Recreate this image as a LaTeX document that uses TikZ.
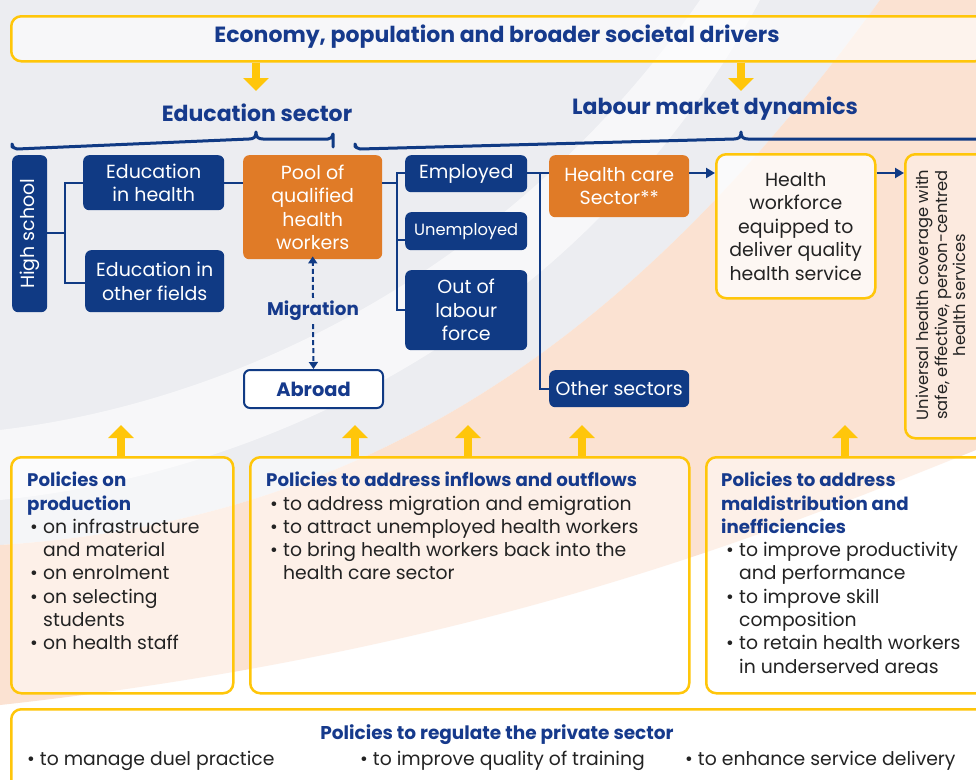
\documentclass[tikz,border=0pt]{standalone}
\usepackage{fontspec}
\setmainfont{Poppins}
\usetikzlibrary{arrows.meta}
\definecolor{dblue}{RGB}{16,58,132}
\definecolor{tblue}{RGB}{22,58,140}
\definecolor{orng}{RGB}{224,123,39}
\definecolor{ylw}{RGB}{255,198,10}
\definecolor{peach}{RGB}{251,226,210}
\definecolor{bggray}{RGB}{236,237,241}
\definecolor{txtgray}{RGB}{35,35,35}
\newcommand\bl[2]{\hspace*{#1}\makebox[13pt][l]{\textbullet}#2}
\newcommand\ind[2]{\hspace*{#1}\hspace*{13pt}#2}
\newcommand\ptitlefont{\bfseries\fontsize{18.2}{23.3}\selectfont}
\begin{document}
\begin{tikzpicture}[x=1pt,y=-1pt,
  bluebox/.style={fill=dblue, rounded corners=6pt, text=white, align=center, anchor=north west, inner sep=1pt, font=\fontsize{19}{23.5}\selectfont},
  orangebox/.style={bluebox, fill=orng},
  ylwbox/.style={draw=ylw, line width=2.5pt, rounded corners=10pt, anchor=north west, inner sep=0pt},
  conn/.style={draw=dblue, line width=2pt},
  flow/.style={conn, -{Triangle[length=9pt,width=10pt]}},
  mig/.style={conn, dash pattern=on 5pt off 3pt, -{Triangle[length=7pt,width=9pt]}},
  uparrow/.style={draw=ylw, line width=8pt, -{Triangle[length=13pt,width=25pt]}},
  brace/.style={draw=dblue, line width=3pt, line cap=round, line join=round},
  ptext/.style={anchor=north west, inner sep=0pt, align=left, text=txtgray, font=\fontsize{18.8}{23.3}\selectfont},
  ttl/.style={text=tblue, font=\bfseries\fontsize{22}{26}\selectfont, inner sep=0pt}
]
\useasboundingbox (0,0) rectangle (976,779);
\clip (0,0) rectangle (976,779);
% background
\fill[white] (0,0) rectangle (976,779);
\fill[bggray] (0,0) -- (880,0) .. controls (640,330) and (380,520) .. (0,545) -- cycle;
\fill[white, opacity=0.6] (0,430) .. controls (250,400) and (520,260) .. (700,0) -- (760,0) .. controls (600,300) and (300,470) .. (0,500) -- cycle;
\fill[peach] (0,545) .. controls (380,520) and (640,330) .. (880,0) -- (976,0) -- (976,450) .. controls (800,520) and (500,650) .. (0,705) -- cycle;

% top banner
\node[ylwbox, fill=white, fill opacity=0.6, text opacity=1, minimum width=974pt, minimum height=45pt] (top) at (10,15) {};
\node[ttl] (toptxt) at (497,37) {Economy, population and broader societal drivers};
\draw[uparrow] (256,0 |- top.south) -- (256,91);
\draw[uparrow] (741,0 |- top.south) -- (741,91);

% section titles
\node[ttl] (edu) at (257,113) {Education sector};
\node[ttl] (lab) at (715,109) {Labour market dynamics};
\draw[brace] (12,147) -- (12,144) arc[start angle=180,end angle=90,radius=5] -- (249,139) .. controls (254,139) and (256,137) .. (256,132) .. controls (256,137) and (258,139) .. (263,139) -- (328,139) arc[start angle=90,end angle=0,radius=5] -- (333,147);
\draw[brace] (355,147) -- (355,144) arc[start angle=180,end angle=90,radius=5] -- (734,139) .. controls (739,139) and (741,137) .. (741,132) .. controls (741,137) and (743,139) .. (748,139) -- (990,139);

% education nodes
\node[bluebox, minimum width=35pt, minimum height=157pt] (hs) at (12,155) {};
\node[text=white, rotate=90, font=\fontsize{19}{21}\selectfont, inner sep=0pt] (hst) at (hs.center) {High school};
\node[bluebox, minimum width=141pt, minimum height=55pt] (eh) at (83,155) {Education\\in health};
\node[bluebox, minimum width=139pt, minimum height=62pt] (eo) at (85,250) {Education in\\other fields};
\node[orangebox, minimum width=139pt, minimum height=104pt] (pool) at (243,155) {Pool of\\qualified\\health\\workers};
\node[bluebox, fill=white, draw=dblue, line width=2pt, text=tblue, font=\bfseries\fontsize{19.4}{21}\selectfont, minimum width=139pt, minimum height=38pt] (abroad) at (243,369) {Abroad};
\node[text=tblue, font=\bfseries\fontsize{18.3}{21}\selectfont, inner sep=3pt] (migr) at (313,311) {Migration};

% labour nodes
\node[bluebox, minimum width=122pt, minimum height=37pt] (emp) at (405,155) {Employed};
\node[bluebox, minimum width=122pt, minimum height=38pt, font=\fontsize{16.3}{20}\selectfont] (unemp) at (405,212) {Unemployed};
\node[bluebox, minimum width=122pt, minimum height=80pt] (olf) at (405,270) {Out of\\labour\\force};
\node[orangebox, minimum width=140pt, minimum height=62pt] (hcs) at (549,155) {Health care\\Sector**};
\node[bluebox, minimum width=140pt, minimum height=37pt] (oth) at (549,370) {Other sectors};
\node[ylwbox, fill=white, fill opacity=0.75, text opacity=1, text=txtgray, align=center, font=\fontsize{18.9}{23.5}\selectfont, minimum width=159pt, minimum height=144pt] (hw) at (715,153) {Health\\workforce\\equipped to\\deliver quality\\health service};
\node[ylwbox, fill=white, fill opacity=0.3, minimum width=80pt, minimum height=284pt] (uhc) at (904,153) {};
\node[rotate=90, align=center, text=txtgray, font=\fontsize{16.3}{18.5}\selectfont, inner sep=0pt] (uhct) at (941,295) {Universal health coverage with\\safe, effective, person-centred\\health services};

% connectors
\draw[conn] (hs.east |- 0,233) -- (65,233);
\draw[conn] (eh.west |- 0,183) -| (65,283) -- (eo.west |- 0,283);
\draw[conn] (eh.east |- 0,183) -- (pool.west |- 0,183);
\draw[conn] (pool.east |- 0,183) -- (397,183);
\draw[conn] (emp.west |- 0,173) -| (397,310) -- (olf.west |- 0,310);
\draw[conn] (397,240) -- (unemp.west |- 0,240);
\draw[conn] (emp.east |- 0,173) -- (hcs.west |- 0,173);
\draw[conn] (540,173) |- (oth.west);
\draw[flow] (hcs.east |- 0,173) -- (hw.west |- 0,173);
\draw[flow] (hw.east |- 0,173) -- (uhc.west |- 0,173);
\draw[mig] (migr.north) -- ([yshift=3pt]pool.south);
\draw[mig] (migr.south) -- (abroad.north);

% policy boxes
\node[ylwbox, fill=white, fill opacity=0.5, minimum width=222pt, minimum height=236pt] (p1) at (10,456) {};
\node[ylwbox, fill=white, fill opacity=0.5, minimum width=439pt, minimum height=236pt] (p2) at (249,456) {};
\node[ylwbox, fill=white, fill opacity=0.5, minimum width=290pt, minimum height=236pt] (p3) at (705,456) {};
\node[ylwbox, fill=white, fill opacity=0.5, minimum width=980pt, minimum height=90pt] (p4) at (10,708) {};

\draw[uparrow] (121,0 |- p1.north) -- (121,425);
\draw[uparrow] (355,0 |- p2.north) -- (355,425);
\draw[uparrow] (468,0 |- p2.north) -- (468,425);
\draw[uparrow] (582,0 |- p2.north) -- (582,425);
\draw[uparrow] (845,0 |- p3.north) -- (845,425);

\node[ptext] (p1t) at (27,472) {\textcolor{tblue}{\ptitlefont Policies on}\\
\textcolor{tblue}{\ptitlefont production}\\
\bl{3pt}{on infrastructure}\\
\ind{3pt}{and material}\\
\bl{3pt}{on enrolment}\\
\bl{3pt}{on selecting}\\
\ind{3pt}{students}\\
\bl{3pt}{on health staff}};

\node[ptext] (p2t) at (266,472) {\textcolor{tblue}{\ptitlefont Policies to address inflows and outflows}\\
\bl{4pt}{to address migration and emigration}\\
\bl{4pt}{to attract unemployed health workers}\\
\bl{4pt}{to bring health workers back into the}\\
\ind{4pt}{health care sector}};

\node[ptext] (p3t) at (721,472) {\textcolor{tblue}{\ptitlefont Policies to address}\\
\textcolor{tblue}{\ptitlefont maldistribution and}\\
\textcolor{tblue}{\ptitlefont inefficiencies}\\
\bl{5pt}{to improve productivity}\\
\ind{5pt}{and performance}\\
\bl{5pt}{to improve skill}\\
\ind{5pt}{composition}\\
\bl{5pt}{to retain health workers}\\
\ind{5pt}{in underserved areas}};

\node[ttl, font=\bfseries\fontsize{18.5}{21}\selectfont] (p4t) at (497,735) {Policies to regulate the private sector};
\node[ptext, anchor=base west] (p4a) at (27,765) {\textbullet\ to manage duel practice};
\node[ptext, anchor=base west] (p4b) at (360,765) {\textbullet\ to improve quality of training};
\node[ptext, anchor=base west] (p4c) at (685,765) {\textbullet\ to enhance service delivery};
\end{tikzpicture}
\end{document}
